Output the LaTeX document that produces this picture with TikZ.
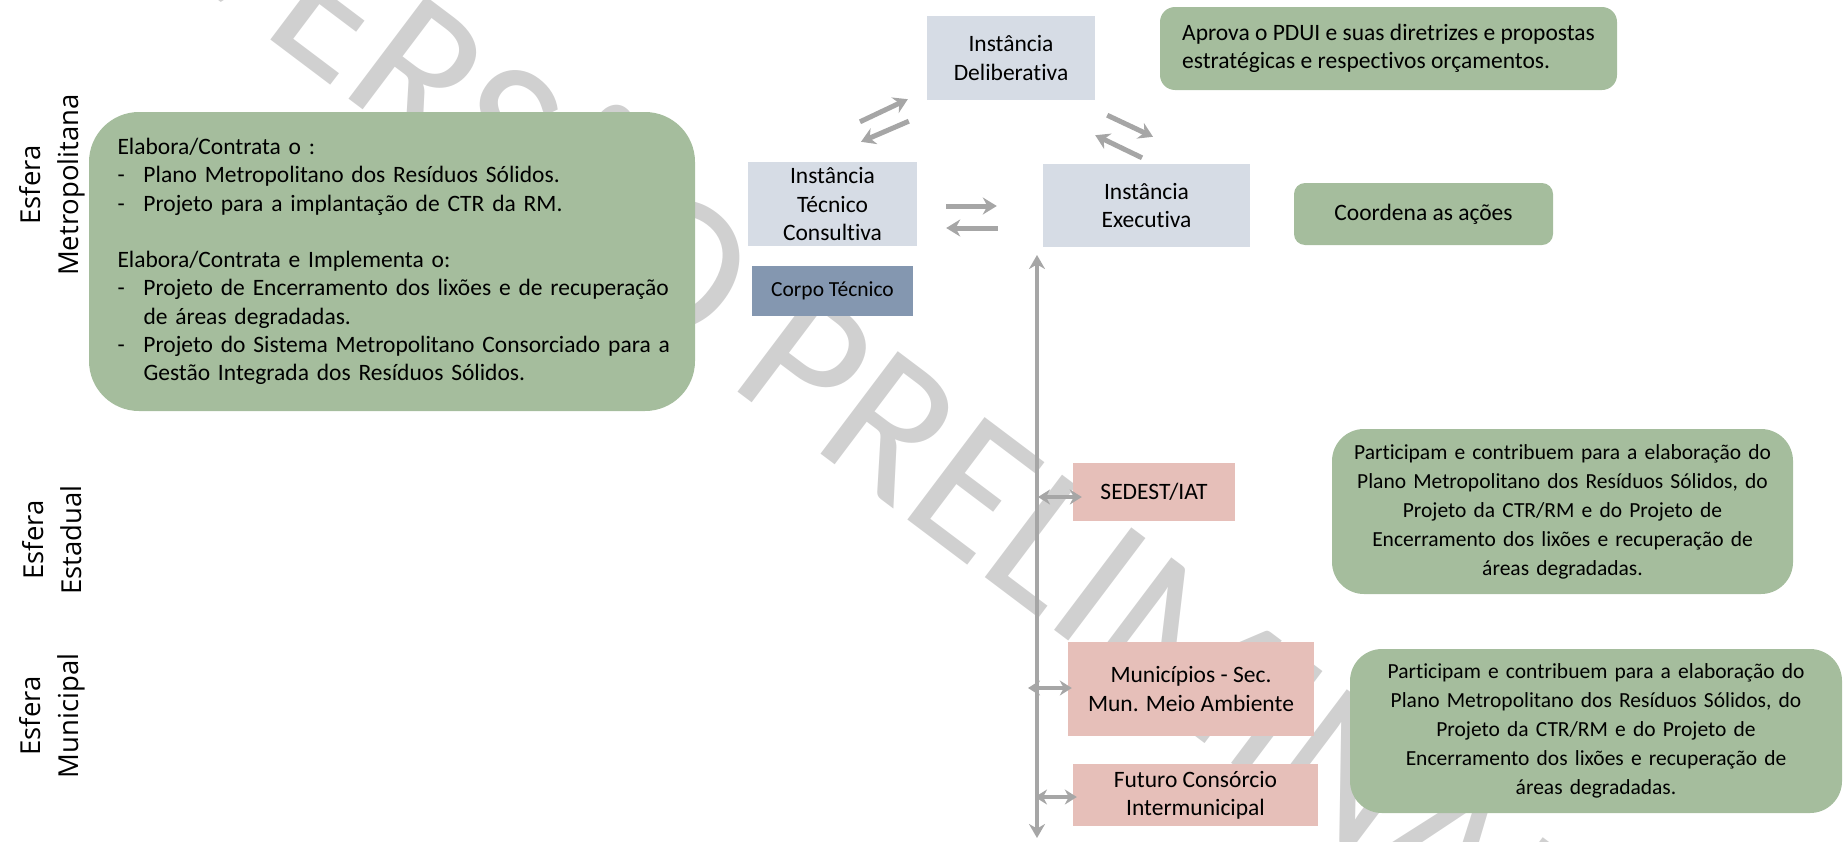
\documentclass[tikz,border=0pt]{standalone}
\usepackage{fontspec}
\setmainfont{Carlito}[Ligatures=NoCommon]
\newfontfamily\sidefont{Open Sans}
\usetikzlibrary{arrows.meta, calc}

\definecolor{instblue}{HTML}{D6DCE5}
\definecolor{corpoblue}{HTML}{8497B0}
\definecolor{orgpink}{HTML}{E6BFB9}
\definecolor{notegreen}{HTML}{A5BD9D}
\definecolor{arrowgray}{HTML}{A6A6A6}
\definecolor{markgray}{HTML}{D0D0D0}

\newcommand{\dashline}[1]{\makebox[26pt][l]{-}\mbox{#1}}
\newcommand{\hangline}[1]{\hspace*{26pt}\mbox{#1}}

\begin{document}
\begin{tikzpicture}[node distance=100pt]
        \tikzstyle{inst} = [rectangle, inner sep=0pt, align=center, fill=instblue, font=\fontsize{23.5}{28.3}\selectfont]
        \tikzstyle{corpobox} = [rectangle, inner sep=0pt, minimum width=161pt, minimum height=50pt, fill=corpoblue, font=\fontsize{21.5}{26}\selectfont]
        \tikzstyle{orgbox} = [rectangle, inner sep=0pt, align=center, fill=orgpink, font=\fontsize{23.5}{28.3}\selectfont]
        \tikzstyle{notebox} = [rectangle, inner sep=0pt, fill=notegreen, font=\fontsize{23.5}{28.3}\selectfont]
        \tikzstyle{longnote} = [notebox, align=center, text width=450pt, rounded corners=32pt, font=\fontsize{21.5}{29}\selectfont]
        \tikzstyle{sidelabel} = [rotate=90, align=center, font=\sidefont\fontsize{27.5}{37.7}\selectfont]
        \tikzstyle{wmark} = [inner sep=0pt, text=markgray, font=\fontsize{200}{200}\selectfont]
        \tikzstyle{pairarrow} = [line width=5pt, arrowgray, -{Stealth[length=14pt,width=17pt]}]
        \tikzstyle{spinearrow} = [line width=4.5pt, arrowgray, {Stealth[length=14pt,width=16pt]}-{Stealth[length=14pt,width=16pt]}]
        \tikzstyle{tap} = [line width=4pt, arrowgray, {Stealth[length=12pt,width=15pt]}-{Stealth[length=12pt,width=15pt]}]

        \useasboundingbox (0,0) rectangle (1843pt,-841pt);
        \clip (0,0) rectangle (1843pt,-841pt);

        % watermark behind everything
        \node (wm) [wmark, rotate=-37, anchor=base west] at (169pt,37pt) {VERSÃO PRELIMINAR};

        \node (delib) [inst, minimum width=168pt, minimum height=84pt] at (1011pt,-58pt) {Instância\\Deliberativa};
        \node (tecnico) [inst, minimum width=169pt, minimum height=84pt, below of=delib, xshift=-178.5pt, yshift=-46pt] {Instância\\Técnico\\Consultiva};
        \node (corpo) [corpobox, below of=tecnico, yshift=13pt] {Corpo Técnico};
        \node (exec) [inst, minimum width=207pt, minimum height=83pt, right of=tecnico, xshift=214pt, yshift=-1.5pt] {Instância\\Executiva};
        \node (aprova) [notebox, minimum width=457pt, minimum height=83pt, align=left, rounded corners=15pt, right of=delib, xshift=277.5pt, yshift=9.5pt] {Aprova o PDUI e suas diretrizes e propostas\\estratégicas e respectivos orçamentos.};
        \node (coordena) [notebox, minimum width=259pt, minimum height=62pt, rounded corners=11pt, right of=exec, xshift=177pt, yshift=-8.5pt] {Coordena as ações};
        \node (metro) [notebox, minimum width=606pt, minimum height=299pt, text width=549pt, align=left, rounded corners=50pt, left of=tecnico, xshift=-340.5pt, yshift=-57.5pt] {Elabora/Contrata o :\\
            \dashline{Plano Metropolitano dos Resíduos Sólidos.}\\
            \dashline{Projeto para a implantação de CTR da RM.}\\[28.3pt]
            Elabora/Contrata e Implementa o:\\
            \dashline{Projeto de Encerramento dos lixões e de recuperação}\\
            \hangline{de áreas degradadas.}\\
            \dashline{Projeto do Sistema Metropolitano Consorciado para a}\\
            \hangline{Gestão Integrada dos Resíduos Sólidos.}};

        \node (sedest) [orgbox, minimum width=162pt, minimum height=58pt, below of=exec, xshift=7.5pt, yshift=-186.5pt] {SEDEST/IAT};
        \node (munic) [orgbox, minimum width=246pt, minimum height=94pt, below of=sedest, xshift=37pt, yshift=-97pt] {Municípios - Sec.\\Mun. Meio Ambiente};
        \node (futuro) [orgbox, minimum width=245pt, minimum height=62pt, below of=munic, xshift=4.5pt, yshift=-6pt] {Futuro Consórcio\\Intermunicipal};

        \node (estnote) [longnote, minimum width=461pt, minimum height=165pt, right of=sedest, xshift=308.5pt, yshift=-19.5pt] {Participam e contribuem para a elaboração do\\Plano Metropolitano dos Resíduos Sólidos, do\\Projeto da CTR/RM e do Projeto de\\Encerramento dos lixões e recuperação de\\áreas degradadas.};
        \node (munnote) [longnote, minimum width=492pt, minimum height=164pt, right of=munic, xshift=305pt, yshift=-42pt] {Participam e contribuem para a elaboração do\\Plano Metropolitano dos Resíduos Sólidos, do\\Projeto da CTR/RM e do Projeto de\\Encerramento dos lixões e recuperação de\\áreas degradadas.};

        \node (metrolabel) [sidelabel] at (52pt,-185pt) {Esfera\\Metropolitana};
        \node (estlabel) [sidelabel] at (52pt,-540pt) {Esfera\\Estadual};
        \node (munlabel) [sidelabel] at (52pt,-716pt) {Esfera\\Municipal};

        \draw[pairarrow] ($(tecnico.east)+(29pt,-2pt)$) -- ($(exec.west)+(-46pt,-0.5pt)$);
        \draw[pairarrow] ($(exec.west)+(-45pt,-22.5pt)$) -- ($(tecnico.east)+(29pt,-24pt)$);
        \draw[pairarrow] ($(tecnico.north)+(27.5pt,40pt)$) -- ($(delib.south west)+(-19pt,1pt)$);
        \draw[pairarrow] ($(delib.south west)+(-18pt,-21pt)$) -- ($(tecnico.north)+(28.5pt,20pt)$);
        \draw[pairarrow] ($(delib.south east)+(12pt,-15pt)$) -- ($(exec.north)+(6.5pt,27pt)$);
        \draw[pairarrow] ($(exec.north)+(-4.5pt,6pt)$) -- ($(delib.south east)+(0pt,-35pt)$);

        \coordinate (spinetop) at (1037pt,-255pt);
        \coordinate (spinebot) at (1037pt,-838pt);
        \draw[spinearrow] (spinebot) -- (spinetop);

        \coordinate (sedestjoin) at (1038pt,-497pt);
        \coordinate (municjoin) at (1028pt,-688pt);
        \coordinate (futurojoin) at (1035pt,-797pt);
        \draw[tap, shorten >=-9pt] (sedestjoin) -- ([yshift=-5pt]sedest.west);
        \draw[tap, shorten >=-4pt] (municjoin) -- ([yshift=1pt]munic.west);
        \draw[tap, shorten >=-4pt] (futurojoin) -- ([yshift=-2pt]futuro.west);

    \end{tikzpicture}
\end{document}
